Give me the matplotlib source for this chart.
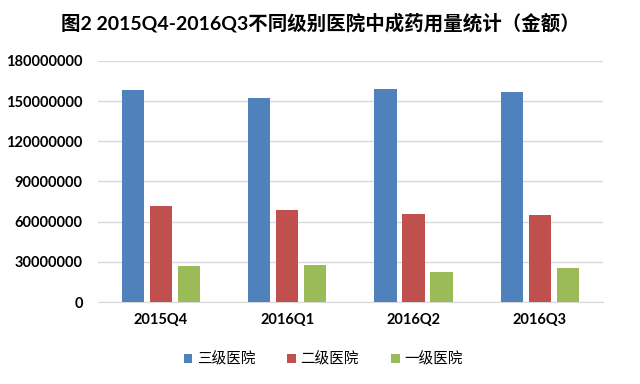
import matplotlib.pyplot as plt
import numpy as np

plt.rcParams['font.family'] = ['Lato', 'Noto Sans CJK SC', 'DejaVu Sans']

# data
quarters = ['2015Q4', '2016Q1', '2016Q2', '2016Q3']
series_names = ['三级医院', '二级医院', '一级医院']
tier3 = [158500000, 152500000, 158700000, 156500000]
tier2 = [71600000, 68400000, 66000000, 64700000]
tier1 = [26600000, 27900000, 22400000, 25100000]
colors = ['#4F81BD', '#C0504D', '#9BBB59']
yticks = [0, 30000000, 60000000, 90000000, 120000000, 150000000, 180000000]

fig = plt.figure(figsize=(6.4, 3.84), dpi=100)
ax = fig.add_axes([0.153, 0.2135, 0.789, 0.628])

x = np.arange(len(quarters))
width = 0.175
step = 0.222
for i, (vals, name) in enumerate(zip([tier3, tier2, tier1], series_names)):
    ax.bar(x + (i - 1) * step, vals, width, color=colors[i], label=name, zorder=3)

ax.set_xlim(-0.5, 3.5)
ax.set_ylim(0, 180000000)
ax.set_yticks(yticks)
ax.set_yticklabels([str(v) for v in yticks], fontsize=10.5, fontweight='bold')
ax.set_xticks(x)
ax.set_xticklabels(quarters, fontsize=10.5, fontweight='bold')
ax.tick_params(length=0)
ax.tick_params(axis='y', pad=11)
ax.tick_params(axis='x', pad=8)
ax.grid(axis='y', color='#D9D9D9', linewidth=1, zorder=0)
for s in ['top', 'right', 'left']:
    ax.spines[s].set_visible(False)
ax.spines['bottom'].set_color('#D9D9D9')

fig.text(0.5, 0.94, '图2 2015Q4-2016Q3不同级别医院中成药用量统计（金额）',
         ha='center', va='center', fontsize=14, fontweight='bold',
         family=['Lato', 'Noto Sans CJK SC'])

fig.legend(loc='center', bbox_to_anchor=(0.505, 0.065), ncol=3, frameon=False,
           handlelength=0.6, handleheight=0.6, handletextpad=0.3, columnspacing=2.2,
           prop={'family': 'Noto Sans CJK SC', 'size': 10.5})

fig.savefig('out.png', dpi=100)
